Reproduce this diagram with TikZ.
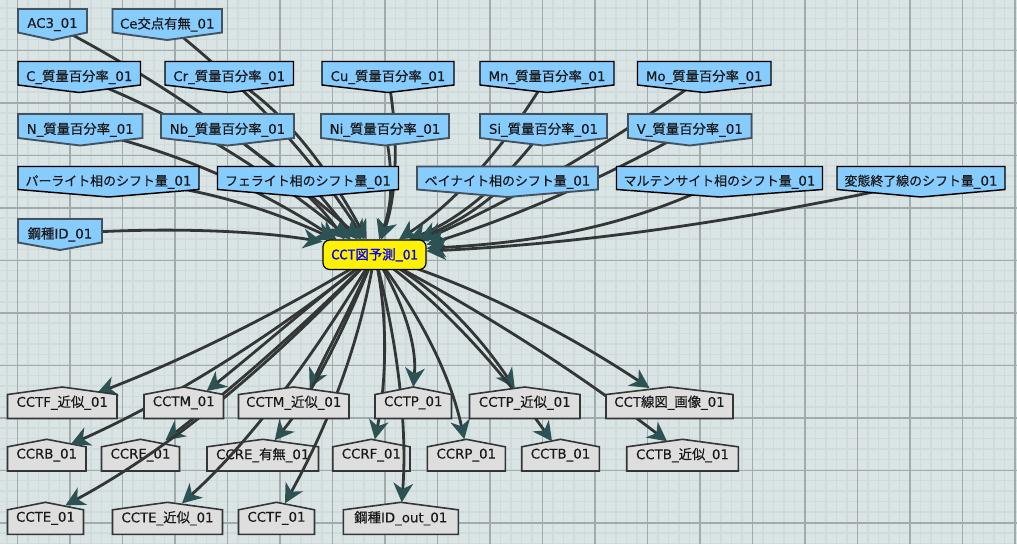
\documentclass[tikz,border=0pt]{standalone}
\usepackage{fontspec}
\setmainfont{DejaVu Sans}[FakeBold=0.25]
\newfontfamily\jp{Noto Sans CJK JP}[FakeBold=0.4]
\newfontfamily\jk{Noto Sans CJK JP}[FakeBold=0.4,Scale=0.97]
\newfontfamily\jb{Noto Sans CJK JP}[FakeBold=1.2]
\newcommand{\J}[1]{{\jp #1}}
\newcommand{\K}[1]{{\jk #1}}
\usetikzlibrary{arrows.meta}
\definecolor{bgc}{HTML}{DAE4E4}
\definecolor{finec}{HTML}{CFDADA}
\definecolor{midc}{HTML}{A2ABAB}
\definecolor{bluec}{HTML}{87CCFF}
\definecolor{grayc}{HTML}{DEDEDE}
\definecolor{linec}{HTML}{333636}
\definecolor{tipc}{HTML}{2D5253}
\definecolor{slatec}{HTML}{44525C}
\pgfdeclarelayer{bg}
\pgfdeclarelayer{rowtwo}
\pgfdeclarelayer{edgelayer}
\pgfsetlayers{bg,rowtwo,edgelayer,main}
\tikzset{
  x=0.75pt,y=-0.75pt,
  blueshape/.style={fill=bluec,draw=black,line width=1.1pt,line join=miter},
  bluealt/.style={fill=bluec,draw=slatec,line width=1.4pt,line join=miter},
  grayshape/.style={fill=grayc,draw=linec,line width=1.2pt,line join=miter},
  boxlabel/.style={inner sep=0pt,outer sep=0pt,font=\fontsize{10}{12}\selectfont,text=black!90},
  conn/.style={draw=linec,line width=2.1pt,-{Stealth[length=14.5pt,width=15pt,inset=4.5pt,color=tipc,fill=tipc,line width=0pt]}},
  fineline/.style={draw=finec,line width=0.8pt},
  thinline/.style={draw=midc,line width=0.9pt},
  thickline/.style={draw=midc,line width=1.7pt},
  predict/.style={fill=yellow,draw=black,line width=0.9pt,rounded corners=5pt,inner sep=0pt,
    minimum width=77.25pt,minimum height=22.1pt,font=\fontsize{10}{12}\selectfont\jb,text=blue},
}
\newcommand{\downbox}[7]{%
  \pgfmathsetmacro\bcx{(#3+#4)/2}\pgfmathsetmacro\bsy{#6-7.5}\pgfmathsetmacro\bcy{(#5+#6)/2}%
  \path[#1] (#3,#5)--(#4,#5)--(#4,\bsy)--(\bcx,#6)--(#3,\bsy)--cycle;
  \node[boxlabel,minimum width={(#4-#3)*0.75pt},minimum height={(#6-#5)*0.75pt}] (#2) at (\bcx,\bcy) {#7};}
\newcommand{\upbox}[6]{%
  \pgfmathsetmacro\bcx{(#2+#3)/2}\pgfmathsetmacro\bsy{#4+7.5}\pgfmathsetmacro\bcy{(#4+#5)/2}%
  \path[grayshape] (#2,\bsy)--(\bcx,#4)--(#3,\bsy)--(#3,#5)--(#2,#5)--cycle;
  \node[boxlabel,minimum width={(#3-#2)*0.75pt},minimum height={(#5-#4)*0.75pt}] (#1) at (\bcx,\bcy) {#6};}
\begin{document}
\begin{tikzpicture}
\useasboundingbox (0,0) rectangle (1017,544);
\begin{pgfonlayer}{bg}
  \fill[bgc] (0,0) rectangle (1017,544);
  \foreach \k in {0,...,97} {\draw[fineline] ({7+10.5*\k},0) -- ({7+10.5*\k},544);}
  \foreach \k in {0,...,52} {\draw[fineline] (0,{8+10.5*\k}) -- (1017,{8+10.5*\k});}
  \foreach \k in {0,...,19} {\draw[thinline] ({17.5+52.5*\k},0) -- ({17.5+52.5*\k},544);}
  \foreach \k in {0,...,10} {\draw[thinline] (0,{-2+52.5*\k}) -- (1017,{-2+52.5*\k});}
  \foreach \k in {0,...,9} {\draw[thickline] ({70+105*\k},0) -- ({70+105*\k},544);}
  \foreach \k in {0,...,4} {\draw[thickline] (0,{103+105*\k}) -- (1017,{103+105*\k});}
\end{pgfonlayer}

% sources
\downbox{bluealt}{ac}{18}{87}{9}{40}{AC3\_01}
\downbox{bluealt}{ce}{112.5}{222}{9}{40}{Ce\J{交点有無}\_01}
\downbox{blueshape}{c}{18}{140.5}{61.5}{92.5}{C\_\J{質量百分率}\_01}
\downbox{blueshape}{cr}{165}{293.5}{61.5}{92.5}{Cr\_\J{質量百分率}\_01}
\downbox{blueshape}{cu}{322}{454}{61.5}{92.5}{Cu\_\J{質量百分率}\_01}
\downbox{blueshape}{mn}{480}{614}{61.5}{92.5}{Mn\_\J{質量百分率}\_01}
\downbox{blueshape}{mo}{637.5}{771}{61.5}{92.5}{Mo\_\J{質量百分率}\_01}
\downbox{bluealt}{n}{18}{142.5}{114}{145.5}{N\_\J{質量百分率}\_01}
\downbox{bluealt}{nb}{161}{294}{114}{145.5}{Nb\_\J{質量百分率}\_01}
\downbox{bluealt}{ni}{321}{449}{114}{145.5}{Ni\_\J{質量百分率}\_01}
\downbox{bluealt}{si}{480}{607}{114}{145.5}{Si\_\J{質量百分率}\_01}
\downbox{bluealt}{v}{628}{751.5}{114}{145.5}{V\_\J{質量百分率}\_01}
\downbox{blueshape}{pearl}{18}{199}{166.5}{197}{\K{パーライト相のシフト量}\_01}
\downbox{blueshape}{ferr}{217.5}{398.5}{166.5}{197}{\K{フェライト相のシフト量}\_01}
\downbox{bluealt}{bain}{417}{598}{166.5}{197}{\K{ベイナイト相のシフト量}\_01}
\downbox{blueshape}{mart}{616.5}{822.5}{166.5}{197}{\K{マルテンサイト相のシフト量}\_01}
\downbox{blueshape}{trans}{837}{1005}{166.5}{197}{\K{変態終了線のシフト量}\_01}
\downbox{bluealt}{steel}{18}{102}{219}{250}{\J{鋼種}ID\_01}

\node[predict] (cct) at (374.5,254.75) {CCT図予測\_01};

% outputs, first row and third row sit above the connectors
\upbox{tfa}{7.5}{117}{387}{418.5}{CCTF\_\J{近似}\_01}
\upbox{tm}{144}{223.5}{387}{418.5}{CCTM\_01}
\upbox{tma}{238.5}{349}{387}{418.5}{CCTM\_\J{近似}\_01}
\upbox{tp}{375}{451.5}{387}{418.5}{CCTP\_01}
\upbox{tpa}{469.5}{580}{387}{418.5}{CCTP\_\J{近似}\_01}
\upbox{line}{606}{733}{387}{418.5}{CCT\J{線図}\_\J{画像}\_01}
\upbox{te}{7.5}{83.5}{502.3}{534.3}{CCTE\_01}
\upbox{tea}{112.5}{222.5}{502.3}{534.3}{CCTE\_\J{近似}\_01}
\upbox{tf}{238.5}{314.5}{502.3}{534.3}{CCTF\_01}
\upbox{out}{343.3}{458.3}{502.3}{534.3}{\J{鋼種}ID\_out\_01}

\begin{pgfonlayer}{rowtwo}
\upbox{rb}{7.5}{86}{439.3}{471}{CCRB\_01}
\upbox{re}{101.5}{179.5}{439.3}{471}{CCRE\_01}
\upbox{rea}{207}{318.5}{439.3}{471}{CCRE\_\J{有無}\_01}
\upbox{rf}{332.7}{410}{439.3}{471}{CCRF\_01}
\upbox{rp}{427.3}{505.3}{439.3}{471}{CCRP\_01}
\upbox{tb}{521.7}{599.3}{439.3}{471}{CCTB\_01}
\upbox{tba}{626.7}{738.3}{439.3}{471}{CCTB\_\J{近似}\_01}
\end{pgfonlayer}

\begin{pgfonlayer}{edgelayer}
% incoming
\draw[conn] (ac.center) .. controls (155,77) and (259,149) .. (cct.130);
\draw[conn] (c.center) .. controls (170,111) and (261,166) .. (cct.147);
\draw[conn] (ce.center) .. controls (233,78) and (299,138) .. (cct.123);
\draw[conn] (cr.center) .. controls (275,103) and (321,156) .. (cct.117);
\draw[conn] (cu.center) .. controls (398,130) and (398,190) .. (cct.66);
\draw[conn] (ni.center) .. controls (392,165) and (394,200) .. (cct.73);
\draw[conn] (mn.center) .. controls (503,150) and (454,203) .. (cct.32);
\draw[conn] (si.center) .. controls (503,184) and (458,220) .. (cct.24);
\draw[conn] (mo.center) .. controls (610,143) and (517,198) .. (cct.17);
\draw[conn] (v.center) .. controls (602,179) and (515,217) .. (cct.11);
\draw[conn] (bain.center) .. controls (480,210) and (450,225) .. (cct.19);
\draw[conn] (mart.center) .. controls (622,230) and (525,243) .. (cct.7.5);
\draw[conn] (trans.center) .. controls (757,218) and (593,243) .. (cct.4);
\draw[conn] (steel.center) .. controls (130,228) and (240,228) .. (cct.166);
\draw[conn] (n.center) .. controls (166,148) and (252,184) .. (cct.158);
\draw[conn] (pearl.center) .. controls (180,182) and (260,205) .. (cct.159);
\draw[conn] (nb.center) .. controls (262,160) and (310,190) .. (cct.153);
\draw[conn] (ferr.center) .. controls (322,197) and (340,220) .. (cct.138);
% outgoing
\draw[conn] (cct.center) .. controls (282,311) and (190,357) .. ([shift={(35,6)}]tfa.north);
\draw[conn] (cct.center) .. controls (315,300) and (258,350) .. ([shift={(23,4)}]tm.north);
\draw[conn] (cct.center) .. controls (273,336) and (172,399) .. ([shift={(24,5)}]rb.north);
\draw[conn] (cct.center) .. controls (305,325) and (235,386) .. ([shift={(25,1)}]re.north);
\draw[conn] (cct.center) .. controls (271,366) and (168,450) .. ([shift={(20,3)}]te.north);
\draw[conn] (cct.center) .. controls (310,363) and (246.5,445) .. ([shift={(14.5,1)}]tea.north);
\draw[conn] (cct.center) .. controls (352,305) and (328,350) .. ([shift={(16,1)}]tma.north);
\draw[conn] (cct.center) .. controls (341,339) and (308,400) .. ([shift={(12,1)}]rea.north);
\draw[conn] (cct.center) .. controls (361,338) and (331,420) .. ([shift={(8.5,1)}]tf.north);
\draw[conn] (cct.center) .. controls (389,315) and (386,385) .. ([shift={(3.5,0)}]rf.north);
\draw[conn] (cct.center) .. controls (395,330) and (408,420) .. ([shift={(1,0)}]out.north);
\draw[conn] (cct.center) .. controls (403,300) and (417,345) .. (tp.north);
\draw[conn] (cct.center) .. controls (422,316) and (451,378) .. ([shift={(-2,0)}]rp.north);
\draw[conn] (cct.center) .. controls (424,279) and (471,324) .. ([shift={(-10,1)}]tpa.north);
\draw[conn] (cct.center) .. controls (434,297) and (493,359) .. ([shift={(-8.5,2)}]tb.north);
\draw[conn] (cct.center) .. controls (466,282) and (557,327) .. ([shift={(-20,1)}]line.north);
\draw[conn] (cct.center) .. controls (472,305) and (570,367) .. ([shift={(-15.5,2)}]tba.north);
\end{pgfonlayer}
\end{tikzpicture}
\end{document}
